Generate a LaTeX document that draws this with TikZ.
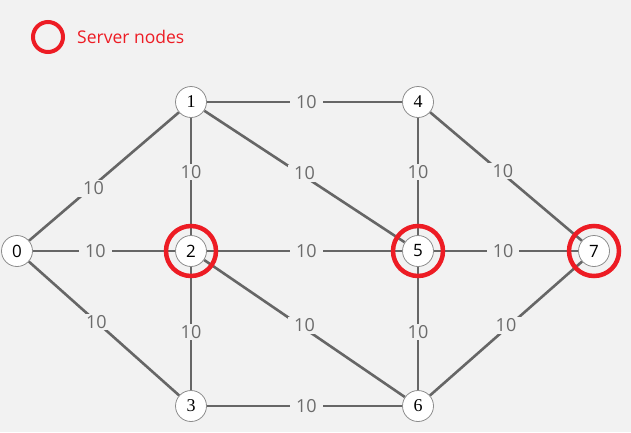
\documentclass[tikz,border=0pt]{standalone}
\usepackage{fontspec}
\setmainfont{Open Sans}
\newfontfamily\serifnum{Liberation Serif}
\pgfdeclarelayer{bglayer}
\pgfdeclarelayer{edgelayer}
\pgfsetlayers{bglayer,edgelayer,main}
\begin{document}
\begin{tikzpicture}[x=1pt,y=-1pt,
  vtx/.style={circle,draw=black!45,fill=white,line width=0.8pt,minimum size=31pt,inner sep=0pt,font=\fontsize{17}{17}\selectfont},
  svtx/.style={vtx,font=\serifnum\fontsize{18}{18}\selectfont},
  edge/.style={draw=black!60,line width=2.6pt},
  wt/.style={fill=bgc,inner xsep=6pt,inner ysep=1.5pt,text=black!58,font=\fontsize{18}{18}\selectfont},
  server/.style={draw=srv,line width=4.5pt,circle,minimum size=50pt,inner sep=0pt}]
\definecolor{bgc}{HTML}{F2F2F2}
\definecolor{srv}{HTML}{ED1C24}
\begin{pgfonlayer}{bglayer}
\fill[bgc] (0,0) rectangle (631,432);
\end{pgfonlayer}
\useasboundingbox (0,0) rectangle (631,432);
% legend
\node[draw=srv,line width=4pt,circle,minimum size=30pt,inner sep=0pt] (leg) at (48,37) {};
\node[anchor=west,text=srv,font=\fontsize{17.5}{17.5}\selectfont,inner sep=0pt] (legt) at (77,37) {Server nodes};
% nodes
\node[vtx] (n0) at (17,251) {0};
\node[svtx] (n1) at (191,102) {1};
\node[vtx] (n2) at (191,251) {2};
\node[svtx] (n3) at (191,406) {3};
\node[svtx] (n4) at (418,102) {4};
\node[vtx] (n5) at (418,251) {5};
\node[svtx] (n6) at (418,406) {6};
\node[vtx] (n7) at (594,251) {7};
% edges
\begin{pgfonlayer}{edgelayer}
\path[edge] (n1) -- node[wt,pos=0.51]{10} (n4);
\path[edge] (n0) -- node[wt,pos=0.43,yshift=-3pt]{10} (n1);
\path[edge] (n1) -- node[wt,pos=0.46]{10} (n2);
\path[edge] (n1) -- node[wt,pos=0.5,yshift=3pt]{10} (n5);
\path[edge] (n4) -- node[wt,pos=0.46]{10} (n5);
\path[edge] (n4) -- node[wt,pos=0.48,yshift=3pt]{10} (n7);
\path[edge] (n0) -- node[wt,pos=0.44]{10} (n2);
\path[edge] (n2) -- node[wt,pos=0.51]{10} (n5);
\path[edge] (n5) -- node[wt,pos=0.48]{10} (n7);
\path[edge] (n0) -- node[wt,pos=0.45]{10} (n3);
\path[edge] (n2) -- node[wt,pos=0.53]{10} (n3);
\path[edge] (n2) -- node[wt,pos=0.5,yshift=3pt]{10} (n6);
\path[edge] (n5) -- node[wt,pos=0.53]{10} (n6);
\path[edge] (n6) -- node[wt,pos=0.5,yshift=3pt]{10} (n7);
\path[edge] (n3) -- node[wt,pos=0.51]{10} (n6);
\end{pgfonlayer}
% server rings
\node[server] (s2) at (n2) {};
\node[server] (s5) at (n5) {};
\node[server] (s7) at (n7) {};
\end{tikzpicture}
\end{document}
